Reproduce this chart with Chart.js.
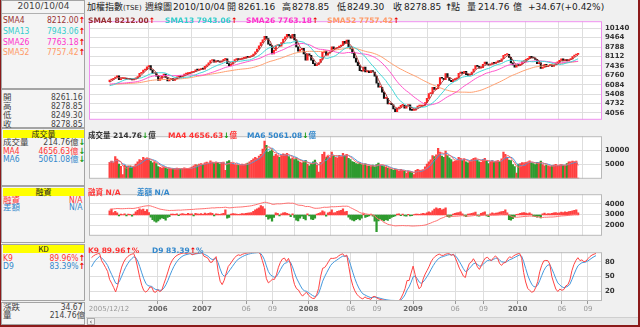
<!DOCTYPE html>
<html>
<head>
<meta charset="utf-8">
<script src="https://cdn.jsdelivr.net/npm/chart.js@4.4.1/dist/chart.umd.min.js"></script>
<style>
  html, body { margin: 0; padding: 0; background: #f0f0f0; }
  #wrap { position: relative; width: 640px; height: 327px; overflow: hidden; background: #f0f0f0;
          font-family: "Liberation Sans Narrow", "DejaVu Sans Condensed", "Noto Sans CJK TC", sans-serif; }
  canvas { position: absolute; left: 86px; }
  .box { position: absolute; left: 1px; width: 84px; border: 1px solid #a4a4a4; background: #f4f4f4; box-sizing: border-box; }
  .hd { position: absolute; left: 3px; width: 81px; height: 8px; background: #ffff00; text-align: center;
        font: 8px/8px "Noto Sans CJK TC", sans-serif; color: #222; }
  .row { position: absolute; left: 3px; width: 82px; height: 9px; display: flex; justify-content: space-between;
         font-size: 8.5px; line-height: 9px; white-space: nowrap; color: #444; }
  .up { color: #ee0000; font-weight: bold; }
  .dn { color: #119911; font-weight: bold; }
  .t { position: absolute; white-space: nowrap; line-height: 12px; top: 1px; color: #222; }
  .cj { font-family: "Noto Sans CJK TC", sans-serif; font-size: 9px; }
  .nm { font-family: "DejaVu Sans", sans-serif; font-size: 9px; }
  .lg { position: absolute; white-space: nowrap; font: bold 7.5px/9px "DejaVu Sans", "Noto Sans CJK TC", sans-serif; }
</style>
</head>
<body>
<div id="wrap">
  <!-- left info panel -->
  <div class="box" style="top:0;height:89px"></div>
  <div style="position:absolute;left:2px;top:0;width:83px;height:13px;border-bottom:1px solid #b0b0b0;text-align:center;font:9px/13px 'DejaVu Sans';color:#444">2010/10/04</div>
  <div class="row" style="top:15.5px;color:#993333"><span>SMA4</span><span>8212.00<span class="up">↑</span></span></div>
  <div class="row" style="top:27px;color:#33cccc"><span>SMA13</span><span>7943.06<span class="up">↑</span></span></div>
  <div class="row" style="top:38px;color:#ff33cc"><span>SMA26</span><span>7763.18<span class="up">↑</span></span></div>
  <div class="row" style="top:48px;color:#ff9966"><span>SMA52</span><span>7757.42<span class="up">↑</span></span></div>

  <div class="box" style="top:89px;height:39px"></div>
  <div class="row" style="top:92.5px"><span>開</span><span>8261.16&nbsp;</span></div>
  <div class="row" style="top:101.5px"><span>高</span><span>8278.85&nbsp;</span></div>
  <div class="row" style="top:110.5px"><span>低</span><span>8249.30&nbsp;</span></div>
  <div class="row" style="top:119.5px"><span>收</span><span>8278.85&nbsp;</span></div>

  <div class="box" style="top:128px;height:58px"></div>
  <div class="hd" style="top:130px">成交量</div>
  <div class="row" style="top:138px"><span>成交量</span><span>214.76億<span class="dn">↓</span></span></div>
  <div class="row" style="top:146.5px;color:#ff3333"><span>MA4</span><span>4656.63億<span class="dn">↓</span></span></div>
  <div class="row" style="top:154.5px;color:#3388cc"><span>MA6</span><span>5061.08億<span class="dn">↓</span></span></div>

  <div class="box" style="top:186px;height:57px"></div>
  <div class="hd" style="top:188px">融資</div>
  <div class="row" style="top:195.5px;color:#ff3333"><span>融資</span><span>N/A&nbsp;</span></div>
  <div class="row" style="top:203px;color:#3388cc"><span>差額</span><span>N/A&nbsp;</span></div>

  <div class="box" style="top:244px;height:57px"></div>
  <div class="hd" style="top:245px">KD</div>
  <div class="row" style="top:253.5px;color:#ff3333"><span>K9</span><span>89.96%<span class="up">↑</span></span></div>
  <div class="row" style="top:262px;color:#3388cc"><span>D9</span><span>83.39%<span class="up">↑</span></span></div>

  <div class="box" style="top:302px;height:23px"></div>
  <div class="row" style="top:303px"><span>漲跌</span><span>34.67&nbsp;</span></div>
  <div class="row" style="top:310.5px"><span>量</span><span>214.76億</span></div>

  <!-- title line -->
  <div class="t cj" style="left:87px">加權指數<span style="font:7px 'DejaVu Sans'">(TSE)</span></div>
  <div class="t cj" style="left:145px">週線圖</div>
  <div class="t nm" style="left:173px">2010/10/04</div>
  <div class="t cj" style="left:227px">開</div><div class="t nm" style="left:238px">8261.16</div>
  <div class="t cj" style="left:282px">高</div><div class="t nm" style="left:292px">8278.85</div>
  <div class="t cj" style="left:337px">低</div><div class="t nm" style="left:347px">8249.30</div>
  <div class="t cj" style="left:393px">收</div><div class="t nm" style="left:404px">8278.85</div>
  <div class="t nm up" style="left:445px">↑</div><div class="t cj" style="left:451px">點</div>
  <div class="t cj" style="left:467px">量</div><div class="t nm" style="left:478px">214.76</div>
  <div class="t cj" style="left:513px">億</div>
  <div class="t nm" style="left:528px">+34.67</div>
  <div class="t nm" style="left:561px">(+0.42%)</div>

  <canvas id="cMain" width="554" height="113" style="top:14px"></canvas>
  <canvas id="cVol" width="554" height="57" style="top:129px"></canvas>
  <canvas id="cMar" width="554" height="56" style="top:187px"></canvas>
  <canvas id="cKd" width="554" height="72" style="top:245px"></canvas>

  <!-- in-panel legends -->
  <div class="lg" style="left:88px;top:15.5px;color:#993333">SMA4 8212.00<span class="up">↑</span></div>
  <div class="lg" style="left:165px;top:15.5px;color:#33cccc">SMA13 7943.06<span class="up">↑</span></div>
  <div class="lg" style="left:246px;top:15.5px;color:#ff33cc">SMA26 7763.18<span class="up">↑</span></div>
  <div class="lg" style="left:327px;top:15.5px;color:#ff9966">SMA52 7757.42<span class="up">↑</span></div>
  <div class="lg" style="left:88px;top:130.5px;color:#333">成交量 214.76<span class="dn">↓</span>億</div>
  <div class="lg" style="left:168px;top:130.5px;color:#ff3333">MA4 4656.63<span class="dn">↓</span>億</div>
  <div class="lg" style="left:247px;top:130.5px;color:#3388cc">MA6 5061.08<span class="dn">↓</span>億</div>
  <div class="lg" style="left:88px;top:187.5px;color:#ff3333">融資 N/A</div>
  <div class="lg" style="left:137px;top:187.5px;color:#3388cc">差額 N/A</div>
  <div class="lg" style="left:88px;top:245.5px;color:#ff3333">K9 89.96<span class="up">↑</span>%</div>
  <div class="lg" style="left:152px;top:245.5px;color:#3388cc">D9 83.39<span class="up">↑</span>%</div>

  <!-- scrollbar + frame -->
  <div style="position:absolute;left:86px;top:317px;width:552px;height:8px;background:#e6e6e6;border-top:1px solid #cfcfcf"></div>
  <div style="position:absolute;left:87px;top:318px;width:8px;height:7px;background:#f4f4f4;border:1px solid #aaa;box-sizing:border-box;font:7px/6px 'DejaVu Sans';text-align:center;color:#333">‹</div>
  <div style="position:absolute;left:0;top:0;width:640px;height:327px;box-sizing:border-box;border-right:2px solid #8b1a1a;border-bottom:2px solid #8b1a1a;border-left:1px solid #8b1a1a"></div>
</div>

<script>
// ---- data: TAIEX weekly, 2005/12/12 .. 2010/10/04 ----
// closes of the 52 weeks before the first shown week (for SMA / KD warm-up)
const PRE_CLOSE = [5930, 6000, 6140, 6010, 5960, 5990, 6010, 6080, 6120, 6150, 6190, 6150, 6120,
  6080, 6000, 6050, 6020, 5920, 5800, 5810, 5950, 5900, 5960, 6050, 6100, 6150, 6220, 6280, 6240,
  6280, 6340, 6320, 6420, 6380, 6250, 6200, 6100, 6150, 6160, 6100, 6050, 6110, 6000, 5880, 5800,
  5650, 5790, 5920, 6000, 6130, 6200, 6300];

const CLOSE = [
  6420, 6460, 6548, 6640, 6730, 6450, 6530, 6530, 6560, 6480, 6510, 6480, 6420,
  6500, 6560, 6660, 6900, 6960, 7130, 7170, 7360, 7460, 7140, 6900, 6950,
  6700, 6400, 6530, 6700, 6850, 6600, 6350, 6450, 6520, 6400, 6500, 6650, 6700,
  6650, 6720, 6850, 6880, 6900, 6950, 6980, 7020, 7150, 7130, 7160, 7250, 7200, 7400, 7520, 7650, 7820,
  7870, 7700, 7780, 7750, 7700, 7800, 7900, 7950, 7600, 7450, 7550, 7750, 7880, 7940, 7880, 7920, 7980, 7990, 8080, 8050, 8100, 8150,
  8280, 8450, 8650, 8880, 9100, 9300, 9560, 9400, 9000, 8900, 8300, 8550, 8900, 8960, 8850, 9100, 9350, 9520, 9700, 9600, 9420, 9700, 9300,
  8800, 8500, 8600, 8700, 8300, 7850, 8300, 8200, 7850, 7600, 7450, 7520, 7680,
  7900, 8400, 8500, 8200, 8350, 8450, 8800, 8650, 8700, 8750, 8850, 8900, 9200, 9050, 9290, 8800,
  8650, 8350, 8000, 7700, 7450, 7100, 7050, 7350, 7000, 7050, 6950, 7100, 7000,
  6700, 6200, 5900, 5900, 5550, 5100, 5100, 4700, 4750, 4650, 4350, 4150, 4400, 4450, 4600, 4600, 4400, 4590,
  4650, 4250, 4240, 4250, 4400, 4550, 4550, 4560, 4600, 4800, 5100, 5450, 5450, 5900, 5750, 5800, 6100, 6600, 6550, 6450, 6890, 6600,
  6400, 6300, 6450, 6500, 6550, 6900, 7000, 6900, 7050, 6800, 6750, 6800, 7000, 7200, 7450, 7400, 7280, 7300,
  7550, 7700, 7550, 7480, 7550, 7650, 7620, 7700, 7800, 7750, 7950, 8190, 8250, 8260, 8050, 7650, 7500, 7350, 7470, 7450, 7550, 7750, 7800, 7900, 7950, 8120,
  8020, 8000, 7900, 7600, 7650, 7250, 7330, 7550, 7380, 7450, 7550, 7400, 7500,
  7650, 7700, 7830, 7950, 7790, 7880, 7800, 7880, 7940, 8110, 8215, 8244.18, 8278.85
];
const LAST_OPEN = 8261.16;

// weekly turnover, 億
const VOLUME = [
  5800, 6200, 5600, 7800, 6900, 5200, 4400, 1500, 4800, 4300, 4600, 4500, 4100, 4400,
  5200, 6000, 6800, 6500, 7600, 7000, 7400, 6800, 6200, 5600, 6000, 5400,
  4300, 4000, 3800, 4200, 3900, 3500, 3600, 3300, 3400, 3500, 3800, 3600, 3400, 3500, 3900, 3700, 3400, 3800, 4100,
  4600, 5000, 4800, 5200, 5400, 5000, 5600, 5900, 5500, 6300, 5800, 5400, 5900,
  5600, 5200, 5800, 5900, 3000, 6100, 6400, 5700, 5300, 5000, 4900, 4700, 4800, 5200, 4900, 5300, 5500,
  6000, 6500, 7000, 7600, 7200, 8000, 8600, 10500, 13300, 11800, 9400, 9800,
  10200, 8000, 8600, 8200, 7600, 8400, 8800, 8500, 9000, 7800, 7000, 7400, 6800, 7400, 6300, 5900,
  5600, 6000, 6500, 5200, 4600, 5200, 6000, 6600, 4800, 2400,
  5800, 8600, 9400, 7600, 8000, 7400, 9400, 8200, 7600, 7400, 8300, 7800, 9000,
  8200, 8600, 7200, 6800, 6100, 5800, 5400,
  5200, 5600, 5000, 4800, 5300, 4600, 4500, 4300, 4800, 4200, 5000, 5500, 4800, 4600,
  4300, 4000, 3800, 3600, 3300, 3000, 3400, 3200, 2600, 3300, 3000, 2600, 2000, 2800, 2500, 2200, 1500,
  3000, 3300, 3100, 2900, 3200,
  4200, 5200, 6000, 6700, 8200, 7800, 8400, 10700, 9400, 8000, 7600, 9800, 8200,
  7400, 6800, 6000, 6200, 6600, 7600, 7200, 6400, 7000, 6000, 5600, 6200, 6800, 7200, 7400,
  6600, 6000, 5800, 6800, 7200, 6200, 5400, 6000, 6400, 5800, 6200, 6400, 6000, 7000, 9400,
  8600, 7600, 6600, 6400, 5000, 4300, 2000,
  5200, 5400, 5700, 5600, 5800, 6000, 6300, 5600, 5400, 5000, 5800, 5600, 6200, 5000, 4600, 4800, 4400,
  4300, 4500, 4800, 5100, 4600, 4800, 5000, 4700, 4600,
  5400, 5950, 6005, 6200, 6000, 6212, 214.76
];

// margin balance (融資餘額), 億
const MARGIN = [
  3480, 3500, 3520, 3540, 3560, 3550, 3540, 3540, 3550, 3560, 3570, 3570, 3560, 3570,
  3600, 3640, 3680, 3720, 3760, 3790, 3810, 3820,
  3800, 3740, 3680, 3620, 3560, 3500, 3470, 3440, 3410, 3390, 3370, 3380,
  3380, 3390, 3400, 3410, 3400, 3420, 3430, 3440, 3450, 3460, 3470, 3480, 3500, 3510, 3520, 3530, 3540, 3550, 3570, 3580, 3600,
  3620, 3610, 3630, 3640, 3640, 3650, 3660, 3680, 3650, 3620, 3630, 3650, 3670, 3680, 3690, 3700, 3710, 3730, 3750, 3770, 3790, 3820,
  3860, 3900, 3950, 4000, 4050, 4100, 4140, 4130, 4080, 4040,
  3960, 3950, 3980, 4000, 3990, 4000, 4020, 4040, 4060, 4070, 4050, 4060, 4020,
  3940, 3880, 3860, 3850, 3810, 3740, 3750, 3740, 3680, 3620, 3580, 3580, 3590,
  3610, 3650, 3680, 3670, 3680, 3700, 3730, 3720, 3730, 3740, 3750, 3760, 3780, 3770, 3780, 3750,
  3640, 3560, 3470, 3380, 3290, 3180, 3120, 3130, 3060, 3030, 3000, 2990, 2950,
  2880, 2680, 2560, 2500, 2400, 2250, 2180, 2080, 2040, 2000, 1960,
  1930, 1940, 1950, 1950, 1960, 1950, 1940, 1950, 1930, 1920, 1920, 1930, 1940, 1950, 1960, 1980,
  2010, 2060, 2130, 2190, 2270, 2340, 2400, 2480, 2590, 2660, 2720, 2820, 2860,
  2850, 2830, 2820, 2830, 2840, 2850, 2880, 2890, 2880, 2850, 2840, 2850, 2870, 2890, 2920,
  2920, 2900, 2900, 2920, 2950, 2930, 2910, 2920, 2940, 2940, 2950, 2960, 2980, 3010, 3040,
  3060, 3030, 2950, 2850, 2780, 2740, 2740, 2750,
  2770, 2790, 2810, 2820, 2830, 2850, 2850, 2840, 2830, 2780, 2760, 2700, 2720, 2740, 2740, 2750,
  2760, 2760, 2770, 2790, 2810, 2830, 2860, 2870, 2880, 2900, 2920, 2950, 2970, 3000, 3030, 3040
];

// weekly margin change bars (差額), drawn on their own ±100 scale
const MARGIN_CHG = [
  20, 28, 12, 18, 10, -5, 4, 2, 6, -4, 5, 3, -6, 4,
  15, 22, 30, 25, 28, 18, 26, 12,
  -10, -22, -30, -35, -28, -20, -14, -18, -25, -12, -8, 4,
  5, 3, 6, -3, 4, 7, 5, 3, 8, 4, 6, -4, 8, 6, 5, 7, 3, 9, 6, 8, 10,
  8, -5, 6, 4, 3, 6, 8, 25, -15, -12, 5, 7, 6, 4, 3, 5, 7, 6, 8, 9, 10, 12,
  18, 25, 30, 35, 45, 40, 30, -8, -20, -15,
  -30, -12, 10, 8, -5, 6, 10, 12, 8, 5, -8, 6, -12,
  -25, -28, -15, -6, -18, -24, 6, -5, -20, -22, -15, 4, 8,
  12, 20, 15, -6, 10, 14, 25, 10, 12, 18, 20, 22, 30, 15, 18, -10,
  -20, -25, -28, -22, -18, -24, -15, 6, -12, -8, -5, 4, -6,
  -30, -80, -28, -20, -25, -28, -22, -26, -18, -12, -8,
  -5, 4, 6, -3, 5, -4, -6, 3, -5, -3, 2, 4, 5, 3, 6, 8,
  6, 10, 15, 12, 20, 28, 35, 30, 32, 25, 28, 35, -8,
  -10, -6, 5, 8, 10, 12, 15, 6, -5, -8, 4, 6, 8, 10, 14,
  -4, -6, 8, 12, 15, -5, -8, 6, 10, 7, 9, 11, 14, 16, 18,
  25, 10, -22, -25, -18, -8, 3, 5,
  8, 10, 12, 9, 7, 11, 5, -6, -8, -10, -6, -14, 6, 9, 5, 7,
  6, 8, 10, 12, 9, 11, 14, 12, 15, 13, 16, 18, 20, 22, 25, 10
];

// x axis: week index of each grid line and its label
const X_TICKS  = [8.7, 33, 55, 77, 90, 108, 129, 142, 160, 181, 195, 212, 234, 247];
const X_LABELS = ["2005/12/12", "2006", "2007", "06", "09", "2008", "06", "09", "2009", "06", "09", "2010", "06", "09"];
const PRICE_TICKS  = [4056, 4732, 5408, 6084, 6760, 7436, 8112, 8788, 9464, 10140];
const VOL_TICKS    = [5000, 10000];
const MARGIN_TICKS = [2000, 3000, 4000];
const KD_TICKS     = [20, 50, 80];

// ---- derived series ----
const ALL = PRE_CLOSE.concat(CLOSE);
const P0 = PRE_CLOSE.length;
const OPEN = CLOSE.map((c, i) => i === CLOSE.length - 1 ? LAST_OPEN : ALL[P0 + i - 1]);
const UP = CLOSE.map((c, i) => c >= OPEN[i]);

function avg(src, n, off) {
  return src.slice(off).map((_, i) => {
    const j = i + off, a = Math.max(0, j - n + 1);
    let s = 0; for (let t = a; t <= j; t++) s += src[t];
    return s / (j - a + 1);
  });
}
const SMA = { 4: avg(ALL, 4, P0), 13: avg(ALL, 13, P0), 26: avg(ALL, 26, P0), 52: avg(ALL, 52, P0) };
const VMA4 = avg(VOLUME, 4, 0), VMA6 = avg(VOLUME, 6, 0);

const K9 = [], D9 = [];
(() => {
  let k = 50, d = 50;
  ALL.forEach((c, j) => {
    const w = ALL.slice(Math.max(0, j - 8), j + 1);
    const hi = Math.max(...w), lo = Math.min(...w);
    const rsv = hi === lo ? 50 : (c - lo) / (hi - lo) * 100;
    k = k * 2 / 3 + rsv / 3; d = d * 2 / 3 + k / 3;
    if (j >= P0) { K9.push(k); D9.push(d); }
  });
})();

const pts = arr => arr.map((v, i) => ({ x: i, y: v }));

// ---- chart helpers ----
const GRID = "#dedede", X_MIN = -1.25, X_MAX = 253.98;
const isYear = i => /^20\d\d$/.test(X_LABELS[i]);

const frame = {
  id: "frame",
  beforeDraw(c) {
    const a = c.chartArea, g = c.ctx;
    g.save(); g.fillStyle = "#fff"; g.fillRect(a.left, a.top, a.width, a.height); g.restore();
  },
  afterDraw(c, args, o) {
    const a = c.chartArea, g = c.ctx;
    g.save(); g.strokeStyle = o.color || "#b8b8b8"; g.lineWidth = 1;
    g.strokeRect(a.left + 0.5, a.top + 0.5, a.width - 1, a.height - 1); g.restore();
  }
};

function xAxis(bottom) {
  return {
    type: "linear", min: X_MIN, max: X_MAX,
    afterBuildTicks: s => { s.ticks = X_TICKS.map(v => ({ value: v })); },
    afterFit: s => { s.height = bottom ? 16 : 0; },
    grid: { color: c => c.index === 0 ? "rgba(0,0,0,0)" : GRID, drawTicks: bottom, tickLength: 3,
            tickColor: c => c.index === 0 ? "rgba(0,0,0,0)" : "#999" },
    border: { display: false },
    ticks: {
      display: bottom, autoSkip: false, maxRotation: 0, padding: 1,
      callback: (v, i) => X_LABELS[i],
      color: c => isYear(c.index) ? "#666" : "#999",
      font: c => ({ family: "DejaVu Sans", size: 7, weight: isYear(c.index) ? "bold" : "normal" })
    }
  };
}

function yAxis(min, max, ticks) {
  return {
    type: "linear", position: "right", min, max,
    afterBuildTicks: s => { s.ticks = ticks.map(v => ({ value: v })); },
    afterFit: s => { s.width = 38; },
    grid: { color: GRID, drawTicks: false },
    border: { display: false },
    ticks: { padding: 3, color: "#333", autoSkip: false, callback: v => String(v),
             font: { family: "DejaVu Sans", size: 7, weight: "bold" } }
  };
}

function panel(id, datasets, scales, frameColor) {
  return new Chart(document.getElementById(id), {
    data: { datasets },
    options: {
      responsive: false, animation: false, devicePixelRatio: 1, events: [],
      layout: { padding: { left: 3, right: 0, top: 0, bottom: 0 }, autoPadding: false },
      plugins: { legend: { display: false }, tooltip: { enabled: false }, frame: { color: frameColor } },
      scales
    },
    plugins: [frame]
  });
}

const line = (data, color, order, axis) => ({
  type: "line", data: pts(data), borderColor: color, borderWidth: 1, pointRadius: 0,
  tension: 0, order: order || 0, yAxisID: axis || "y"
});

// main: candles + moving averages
panel("cMain", [
  line(SMA[4], "#b04040"), line(SMA[13], "#40d8d8"), line(SMA[26], "#ff55cc"), line(SMA[52], "#ffa070"),
  { type: "bar", order: 1, data: CLOSE.map((c, i) => ({ x: i, y: [OPEN[i], c] })),
    backgroundColor: UP.map(u => u ? "#ff2222" : "#111111"), barThickness: 1.5, minBarLength: 1 }
], { x: xAxis(false), y: yAxis(3568, 10641, PRICE_TICKS) }, "#ee90ee");

// volume
panel("cVol", [
  line(VMA4, "#ff6666"), line(VMA6, "#4a9ad8"),
  { type: "bar", order: 1, data: pts(VOLUME), backgroundColor: UP.map(u => u ? "#ff4040" : "#2e9a2e"), barThickness: 1.6 }
], { x: xAxis(false), y: yAxis(0, 15000, VOL_TICKS) }, "#b8b8b8");

// margin balance + weekly change
panel("cMar", [
  line(MARGIN, "#ff7070"),
  { type: "bar", order: 1, yAxisID: "y2", data: pts(MARGIN_CHG),
    backgroundColor: MARGIN_CHG.map(v => v >= 0 ? "#ff4040" : "#2e9a2e"), barThickness: 1.6 }
], { x: xAxis(false), y: yAxis(1000, 4900, MARGIN_TICKS),
     y2: { type: "linear", display: false, min: -100, max: 100 } }, "#b8b8b8");

// KD
panel("cKd", [line(K9, "#ff4444"), line(D9, "#4499dd")],
  { x: xAxis(true), y: yAxis(0, 100, KD_TICKS) }, "#b8b8b8");
</script>
</body>
</html>
